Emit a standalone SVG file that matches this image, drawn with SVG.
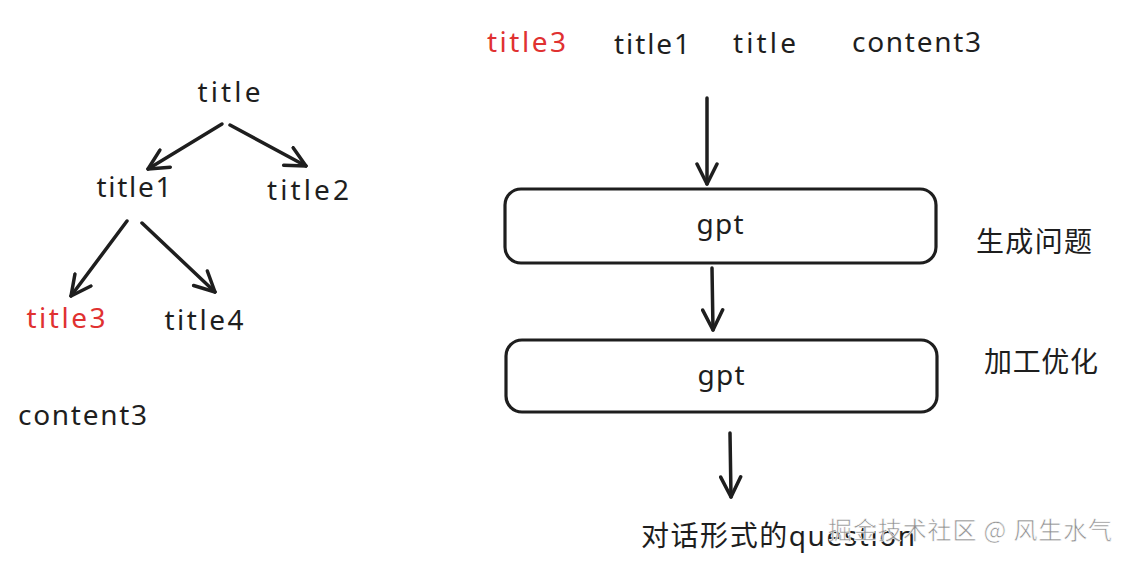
<svg xmlns="http://www.w3.org/2000/svg" width="1130" height="563" viewBox="0 0 1130 563">
  <style>
    .t { font-family: "Noto Sans", "Noto Sans CJK SC", sans-serif; font-size: 28px; fill: #1e1e1e; }
    .red { fill: #e03131; }
    .c { text-anchor: middle; }
    .box { fill: none; stroke: #1e1e1e; stroke-width: 3.2; }
    .ln { fill: none; stroke: #1e1e1e; stroke-width: 3.5; stroke-linecap: round; marker-end: url(#ah); }
    .wm { font-family: "Noto Sans CJK SC", sans-serif; font-size: 24px; fill: #8f8f8f; stroke: #ffffff; stroke-width: 0.6; }
  </style>
  <defs>
    <marker id="ah" viewBox="0 0 24 24" refX="22" refY="12" markerWidth="24" markerHeight="24" markerUnits="userSpaceOnUse" orient="auto">
      <path d="M2,2 L22,12 L2,22" fill="none" stroke="#1e1e1e" stroke-width="3.5" stroke-linecap="round" stroke-linejoin="round"/>
    </marker>
  </defs>
  <rect width="1130" height="563" fill="#ffffff"/>

  <g id="connectors">
    <line class="ln" x1="222" y1="124" x2="148" y2="169"/>
    <line class="ln" x1="230" y1="125" x2="306" y2="166"/>
    <line class="ln" x1="127" y1="221" x2="71" y2="296"/>
    <line class="ln" x1="142" y1="223" x2="215" y2="292"/>
    <line class="ln" x1="707" y1="98" x2="707" y2="184"/>
    <line class="ln" x1="712" y1="268" x2="713" y2="330"/>
    <line class="ln" x1="730" y1="433" x2="731" y2="497"/>
  </g>

  <g id="n-title"><text class="t c" x="229" y="102" textLength="63" lengthAdjust="spacing">title</text></g>
  <g id="n-title1"><text class="t c" x="134" y="197" textLength="75" lengthAdjust="spacing">title1</text></g>
  <g id="n-title2"><text class="t c" x="308" y="200" textLength="82" lengthAdjust="spacing">title2</text></g>
  <g id="n-title3"><text class="t c red" x="66" y="328" textLength="79" lengthAdjust="spacing">title3</text></g>
  <g id="n-title4"><text class="t c" x="204" y="330" textLength="79" lengthAdjust="spacing">title4</text></g>
  <g id="n-content3"><text class="t" x="18" y="425" textLength="129" lengthAdjust="spacing">content3</text></g>

  <g id="n-inputs">
    <text class="t red" x="487" y="52" textLength="79" lengthAdjust="spacing">title3</text>
    <text class="t" x="614" y="54" textLength="76" lengthAdjust="spacing">title1</text>
    <text class="t" x="733" y="53" textLength="63" lengthAdjust="spacing">title</text>
    <text class="t" x="852" y="52" textLength="129" lengthAdjust="spacing">content3</text>
  </g>

  <g id="n-gpt1">
    <rect class="box" x="505" y="189" width="431" height="74" rx="16"/>
    <text class="t c" x="720" y="234" textLength="47" lengthAdjust="spacing">gpt</text>
  </g>
  <g id="n-label1"><text class="t" x="976" y="252" textLength="116" lengthAdjust="spacing">生成问题</text></g>

  <g id="n-gpt2">
    <rect class="box" x="506" y="340" width="431" height="72" rx="16"/>
    <text class="t c" x="721" y="385" textLength="47" lengthAdjust="spacing">gpt</text>
  </g>
  <g id="n-label2"><text class="t" x="984" y="372" textLength="114" lengthAdjust="spacing">加工优化</text></g>

  <g id="n-output"><text class="t" x="641" y="546" textLength="274" lengthAdjust="spacing">对话形式的question</text></g>

  <g id="watermark"><text class="wm" x="828" y="539" textLength="284" lengthAdjust="spacing">掘金技术社区 @ 风生水气</text></g>
</svg>
